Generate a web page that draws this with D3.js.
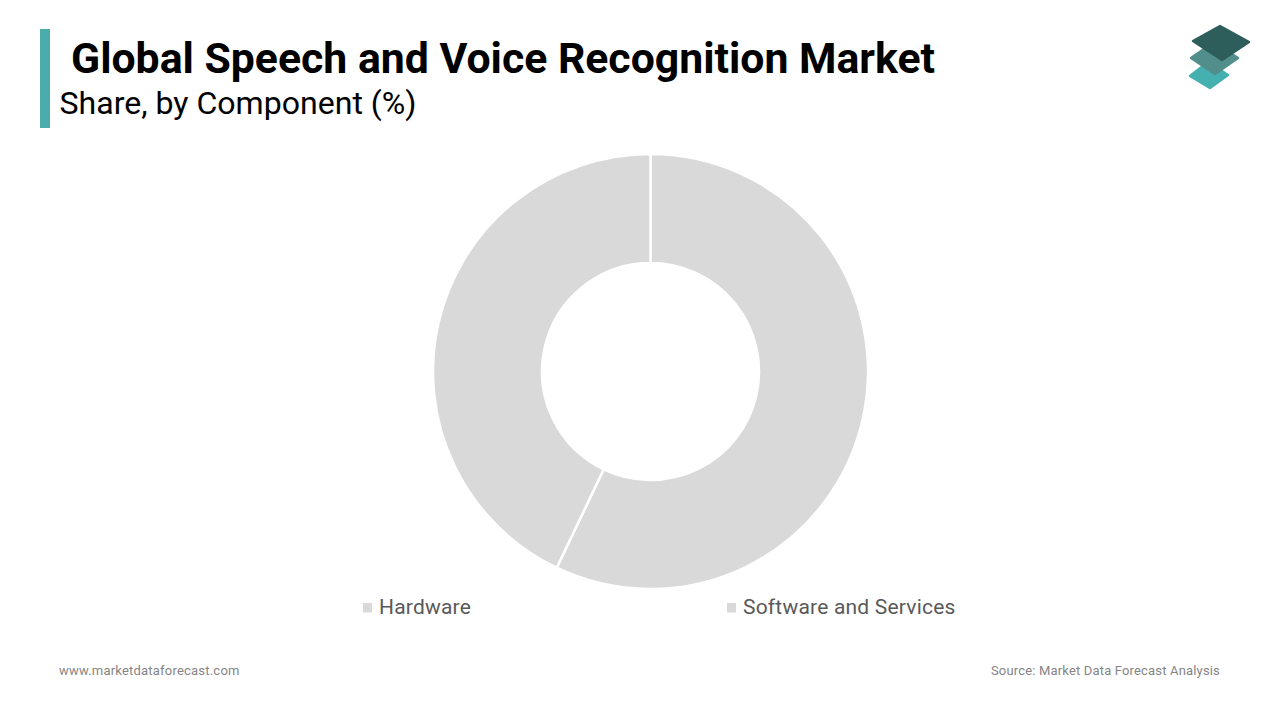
<!DOCTYPE html>
<html><head><meta charset="utf-8">
<script src="https://cdn.jsdelivr.net/npm/d3@7/dist/d3.min.js"></script>
<style>html,body{margin:0;padding:0;background:#fff}svg{display:block}text{font-family:Roboto,sans-serif}</style>
</head><body><svg id="c" width="1280" height="720"></svg>
<script>
const categories = ["Hardware", "Software and Services"];
const shares = [57.1, 42.9];
const sliceColors = ["#d9d9d9", "#d9d9d9"];
const titleText = "Global Speech and Voice Recognition Market";
const subtitleText = "Share, by Component (%)";
const siteText = "www.marketdataforecast.com";
const sourceText = "Source: Market Data Forecast Analysis";

const svg = d3.select("#c");
svg.append("rect").attr("x",40).attr("y",29).attr("width",10).attr("height",99).attr("fill","#4bacac");
svg.append("text").attr("x",71).attr("y",73).attr("font-size",42).attr("font-weight",700).attr("fill","#000").attr("textLength",864).attr("lengthAdjust","spacingAndGlyphs").text(titleText);
svg.append("text").attr("x",59.5).attr("y",113.5).attr("font-size",32).attr("fill","#000").attr("textLength",357).attr("lengthAdjust","spacingAndGlyphs").text(subtitleText);

const pie = d3.pie().value(d=>d).sort(null);
const arc = d3.arc().innerRadius(108.5).outerRadius(217.5);
svg.append("g").attr("transform","translate(650.5,371.5)")
  .selectAll("path").data(pie(shares)).join("path")
  .attr("d",arc).attr("fill",(d,i)=>sliceColors[i]).attr("stroke","#fff").attr("stroke-width",2.5);

const legendScale = d3.scalePoint().domain(categories).range([363,727]);
const lg = svg.append("g").selectAll("g").data(categories).join("g")
  .attr("transform",d=>`translate(${legendScale(d)},0)`);
lg.append("rect").attr("x",0).attr("y",603).attr("width",9).attr("height",9.5).attr("fill","#d9d9d9");
lg.append("text").attr("x",16).attr("y",614).attr("font-size",21).attr("letter-spacing",0.2).attr("fill","#595959").text(d=>d);

svg.append("text").attr("x",59).attr("y",675).attr("font-size",13).attr("letter-spacing",0.21).attr("fill","#858585").text(siteText);
svg.append("text").attr("x",1220).attr("y",675).attr("text-anchor","end").attr("font-size",13).attr("letter-spacing",0.17).attr("fill","#858585").text(sourceText);

// logo
const logo = svg.append("g");
const layers = [
 {c:"#45b0b0", pts:[[1208,62],[1228,75],[1210,88],[1190,76]]},
 {c:"#528f8c", pts:[[1214,42],[1238,58],[1215,74],[1191,58]]},
 {c:"#2e5e5b", pts:[[1220,26],[1249,42],[1222,60],[1193,41]]}
];
const line = d3.line();
layers.forEach(l=>{
 logo.append("path").attr("d",line(l.pts)+"Z")
  .attr("fill",l.c).attr("stroke",l.c).attr("stroke-width",2.5).attr("stroke-linejoin","round");
});
</script></body></html>
